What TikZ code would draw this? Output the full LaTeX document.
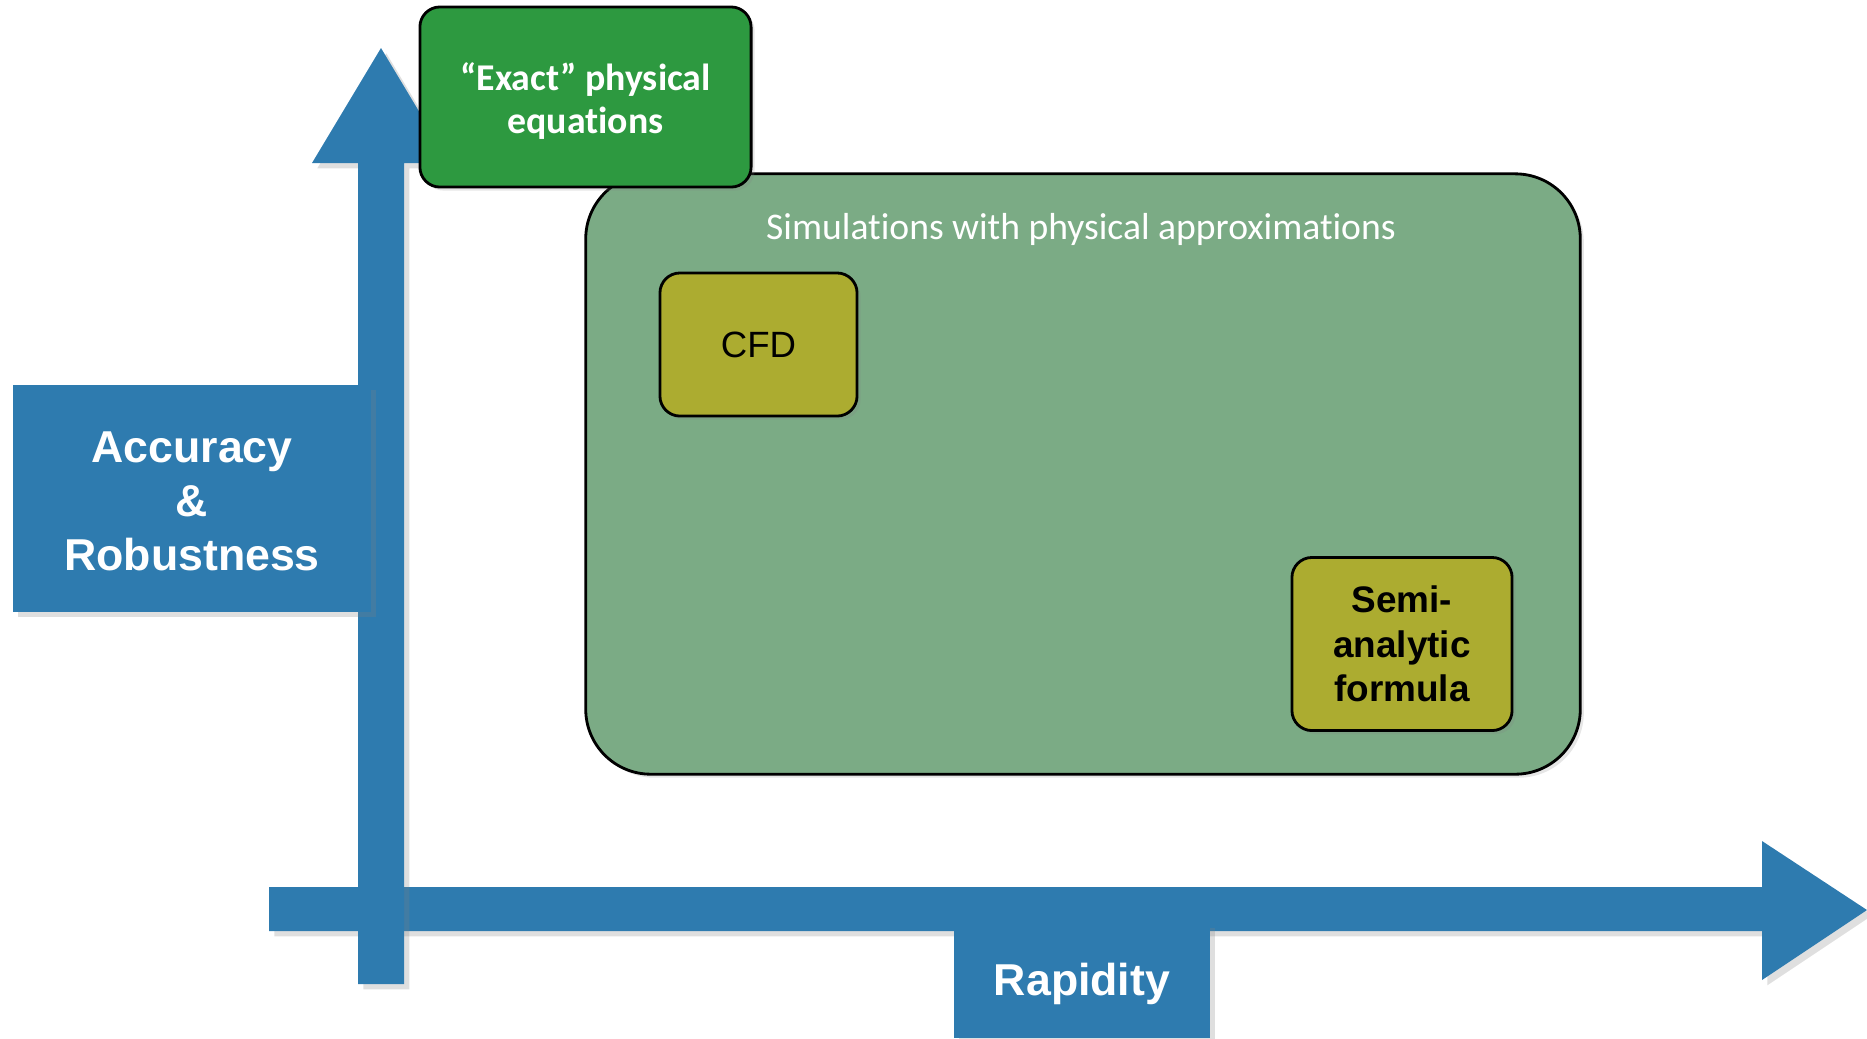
\documentclass[tikz,border=0pt]{standalone}
\usepackage{fontspec}
\setmainfont[Ligatures={NoCommon}]{Carlito}
\newfontfamily\arialfont{Liberation Sans}
\usetikzlibrary{shadows}
\definecolor{axisblue}{RGB}{46,123,175}
\definecolor{exactgreen}{RGB}{45,153,64}
\definecolor{simgreen}{RGB}{123,171,133}
\definecolor{olivebox}{RGB}{172,172,48}

\begin{document}
\begin{tikzpicture}[x=0.01cm, y=-0.01cm,
  axisshape/.style={fill=axisblue, drop shadow={opacity=0.25, shadow xshift=1.5pt, shadow yshift=-1.5pt}},
  axislabel/.style={fill=axisblue, text=white, align=center, inner sep=0pt,
    font=\arialfont\bfseries\fontsize{12.7}{15.4}\selectfont,
    drop shadow={opacity=0.25, shadow xshift=1.5pt, shadow yshift=-1.5pt}},
  methodbox/.style={draw=black, line width=0.8pt, rounded corners=0.2cm, align=center, inner sep=0pt,
    drop shadow={opacity=0.2, shadow xshift=1pt, shadow yshift=-1pt}}
  ]
  \useasboundingbox (0,0) rectangle (1867,1038);

  % axes
  \fill[axisshape] (269,887) -- (1762,887) -- (1762,841) -- (1867,910)
    -- (1762,980) -- (1762,931) -- (269,931) -- cycle;
  \fill[axisshape] (358,984) -- (358,163) -- (312,163) -- (381,48)
    -- (450,163) -- (404,163) -- (404,984) -- cycle;

  % axis labels
  \node[axislabel, minimum width=3.58cm, minimum height=2.27cm, text depth=0pt] (accuracy) at (192,498.5) {};
  \node[text=white, align=center, font=\arialfont\bfseries\fontsize{12.7}{15.4}\selectfont]
    (accuracytext) at (192,501) {Accuracy\\\&\\Robustness};
  \node[axislabel, minimum width=2.56cm, minimum height=1.15cm] (rapidity) at (1082,980.5) {};
  \node[text=white, font=\arialfont\bfseries\fontsize{12.7}{15.4}\selectfont]
    (rapiditytext) at (1082,984) {Rapidity};

  % simulation area
  \node[methodbox, fill=simgreen, rounded corners=0.65cm, minimum width=9.94cm, minimum height=6.0cm]
    (simulations) at (1083,474) {};
  \node[text=white, font=\fontsize{10.7}{12}\selectfont] (simtitle) at (1081,229)
    {Simulations with physical approximations};

  \node[methodbox, fill=exactgreen, text=white, minimum width=3.31cm, minimum height=1.80cm,
    font=\bfseries\fontsize{10.75}{12.5}\selectfont, text height=6pt] (exact) at (585.5,97) {};
  \node[text=white, align=center, font=\bfseries\fontsize{10.75}{12.5}\selectfont]
    (exacttext) at (585.5,101) {“Exact” physical\\equations};

  \node[methodbox, fill=olivebox, minimum width=1.97cm, minimum height=1.43cm,
    font=\arialfont\fontsize{10.4}{12.5}\selectfont] (cfd) at (758.5,344.5) {CFD};

  \node[methodbox, fill=olivebox, minimum width=2.20cm, minimum height=1.73cm,
    font=\arialfont\bfseries\fontsize{10.5}{12.7}\selectfont] (semi) at (1402,644)
    {Semi-\\analytic\\formula};
\end{tikzpicture}
\end{document}
